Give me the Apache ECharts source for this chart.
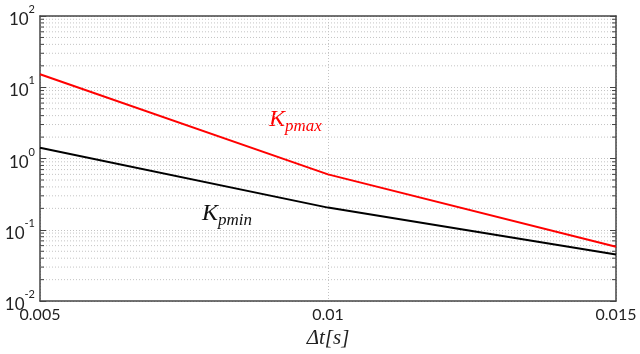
<!DOCTYPE html>
<html>
<head>
<meta charset="utf-8">
<script src="https://cdn.jsdelivr.net/npm/echarts@6/dist/echarts.min.js"></script>
<style>
  html, body { margin: 0; padding: 0; background: #fff; }
  #chart { width: 640px; height: 354px; }
</style>
</head>
<body>
<div id="chart"></div>
<script>
// time step (s)
const dt = [0.005, 0.01, 0.015];
// gain bounds
const kpMax = [15.2, 0.6, 0.058];
const kpMin = [1.42, 0.205, 0.045];

// log grid: decades and minor steps within each
const decades = [0.01, 0.1, 1, 10];
const minorSteps = [2, 3, 4, 5, 6, 7, 8, 9];
const minorVals = [];
decades.forEach(d => minorSteps.forEach(s => minorVals.push(+(d * s).toPrecision(3))));

const labelFont = 'Lato';
const axisColor = '#444';

// minor dotted lines + inward ticks on both sides
const renderMinor = function (params, api) {
    const v = api.value(1);
    const a = api.coord([dt[0], v]);
    const b = api.coord([dt[2], v]);
    return {
        type: 'group',
        children: [
            { type: 'line', shape: { x1: a[0], y1: a[1], x2: b[0], y2: b[1] },
              style: { stroke: '#c4c4c4', lineWidth: 1, lineDash: [1, 2] } },
            { type: 'line', shape: { x1: a[0], y1: a[1], x2: a[0] + 4, y2: a[1] },
              style: { stroke: axisColor, lineWidth: 1 } },
            { type: 'line', shape: { x1: b[0] - 4, y1: b[1], x2: b[0], y2: b[1] },
              style: { stroke: axisColor, lineWidth: 1 } }
        ]
    };
};

const yLabel = {
    fontFamily: labelFont,
    margin: 5,
    formatter: function (v) {
        return '{b|10}{s|' + Math.round(Math.log10(v)) + '}';
    },
    rich: {
        b: { fontSize: 17, fontFamily: labelFont, color: '#222', lineHeight: 24, verticalAlign: 'bottom' },
        s: { fontSize: 11, fontFamily: labelFont, color: '#222', lineHeight: 24, verticalAlign: 'top' }
    }
};

const chart = echarts.init(document.getElementById('chart'));
const option = {
    animation: false,
    grid: { left: 40, right: 24, top: 16, bottom: 50, show: false },
    xAxis: [
        {
            type: 'value',
            min: 0.005,
            max: 0.015,
            interval: 0.005,
            name: 'Δt[s]',
            nameLocation: 'middle',
            nameGap: 16,
            nameTextStyle: { fontFamily: 'Liberation Serif', fontStyle: 'italic', fontSize: 21, color: '#222' },
            axisLine: { lineStyle: { color: axisColor, width: 1.5 } },
            axisTick: { show: false },
            axisLabel: { fontFamily: labelFont, fontSize: 16, color: '#222', margin: 6 },
            splitLine: { show: true, lineStyle: { color: '#c4c4c4', type: [1, 2] } }
        },
        {
            type: 'value',
            position: 'top',
            min: 0.005,
            max: 0.015,
            axisLine: { lineStyle: { color: axisColor, width: 1.5 } },
            axisTick: { show: false },
            axisLabel: { show: false },
            splitLine: { show: false }
        }
    ],
    yAxis: [
        {
            type: 'log',
            logBase: 10,
            min: 0.01,
            max: 100,
            axisLine: { show: true, lineStyle: { color: axisColor, width: 1.5 } },
            axisTick: { show: true, inside: true, length: 6, lineStyle: { color: axisColor } },
            axisLabel: yLabel,
            splitLine: { show: true, lineStyle: { color: '#c4c4c4', type: [1, 2] } }
        },
        {
            type: 'log',
            logBase: 10,
            min: 0.01,
            max: 100,
            position: 'right',
            axisLine: { show: true, lineStyle: { color: axisColor, width: 1.5 } },
            axisTick: { show: true, inside: true, length: 6, lineStyle: { color: axisColor } },
            axisLabel: { show: false },
            splitLine: { show: false }
        }
    ],
    graphic: [
        {
            type: 'text',
            left: 269,
            top: 108,
            style: {
                text: '{k|K}{s|pmax}',
                rich: {
                    k: { fontFamily: 'Liberation Serif', fontStyle: 'italic', fontSize: 24, fill: '#ff0000', lineHeight: 30, verticalAlign: 'middle' },
                    s: { fontFamily: 'Liberation Serif', fontStyle: 'italic', fontSize: 17, fill: '#ff0000', lineHeight: 30, verticalAlign: 'bottom' }
                }
            }
        },
        {
            type: 'text',
            left: 202,
            top: 202,
            style: {
                text: '{k|K}{s|pmin}',
                rich: {
                    k: { fontFamily: 'Liberation Serif', fontStyle: 'italic', fontSize: 24, fill: '#111', lineHeight: 30, verticalAlign: 'middle' },
                    s: { fontFamily: 'Liberation Serif', fontStyle: 'italic', fontSize: 17, fill: '#111', lineHeight: 30, verticalAlign: 'bottom' }
                }
            }
        }
    ],
    series: [
        {
            type: 'custom',
            renderItem: renderMinor,
            data: minorVals.map(v => [dt[1], v]),
            silent: true,
            clip: false,
            z: 1
        },
        {
            type: 'line',
            name: 'Kpmin',
            data: dt.map((x, i) => [x, kpMin[i]]),
            symbol: 'none',
            lineStyle: { color: '#000', width: 2 },
            z: 3
        },
        {
            type: 'line',
            name: 'Kpmax',
            data: dt.map((x, i) => [x, kpMax[i]]),
            symbol: 'none',
            lineStyle: { color: '#ff0000', width: 2 },
            z: 4
        }
    ]
};
chart.setOption(option);
</script>
</body>
</html>
